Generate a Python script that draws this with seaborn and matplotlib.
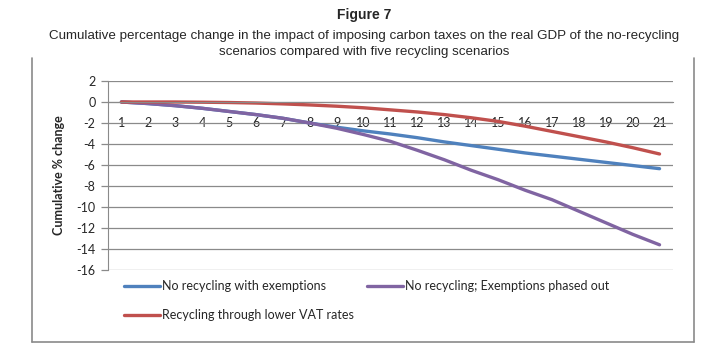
import matplotlib
matplotlib.use("Agg")
import matplotlib.pyplot as plt
from matplotlib.lines import Line2D
import seaborn as sns
import pandas as pd

# data
periods = list(range(1, 22))
no_recycling_exempt = [0, -0.15, -0.35, -0.6, -0.9, -1.2, -1.55, -2.0, -2.4, -2.75,
                       -3.05, -3.4, -3.8, -4.15, -4.5, -4.85, -5.15, -5.45, -5.75, -6.05, -6.35]
no_recycling_phased = [0, -0.15, -0.35, -0.6, -0.9, -1.2, -1.55, -2.0, -2.5, -3.1,
                       -3.75, -4.6, -5.5, -6.5, -7.4, -8.4, -9.3, -10.4, -11.5, -12.6, -13.6]
recycling_vat = [0, 0, 0, -0.02, -0.05, -0.1, -0.18, -0.28, -0.4, -0.55,
                 -0.75, -0.95, -1.2, -1.5, -1.85, -2.3, -2.8, -3.3, -3.8, -4.35, -4.95]

series_names = ["No recycling with exemptions",
                "No recycling; Exemptions phased out",
                "Recycling through lower VAT rates"]
colors = ["#4F81BD", "#8064A2", "#C0504D"]

df = pd.concat([
    pd.DataFrame({"period": periods, "value": vals, "series": name})
    for name, vals in zip(series_names, [no_recycling_exempt, no_recycling_phased, recycling_vat])
])

sns.set_style("white")
plt.rcParams["font.family"] = ["Liberation Sans", "DejaVu Sans"]
small_font = ["Lato", "DejaVu Sans"]

fig = plt.figure(figsize=(7.28, 3.54), dpi=100)
W, H = 728, 354
ax = fig.add_axes([108 / W, 1 - 270 / H, 565 / W, 189 / H])

sns.lineplot(data=df, x="period", y="value", hue="series", hue_order=series_names,
             palette=colors, linewidth=2.4, ax=ax, legend=False,
             solid_capstyle="round")

ax.set_xlim(0.5, 21.5)
ax.set_ylim(-16, 2)
ax.set_yticks(range(-16, 3, 2))
ax.set_yticklabels([str(v) for v in range(-16, 3, 2)], fontfamily=small_font, fontsize=9)
ax.yaxis.grid(True, color="#8a8a8a", linewidth=0.9)
ax.set_axisbelow(True)

# category axis crossing at zero, tick marks between categories
ax.spines["bottom"].set_position(("data", 0))
ax.spines["bottom"].set_color("#8a8a8a")
ax.spines["left"].set_color("#8a8a8a")
ax.spines["top"].set_visible(False)
ax.spines["right"].set_visible(False)
ax.set_xticks(periods)
ax.set_xticklabels([str(p) for p in periods], fontfamily=small_font, fontsize=9)
ax.set_xticks([p + 0.5 for p in [0] + periods], minor=True)
ax.tick_params(axis="x", which="major", length=0, pad=11)
ax.tick_params(axis="x", which="minor", length=5, color="#8a8a8a", direction="out", width=0.9)
ax.tick_params(axis="y", length=5, color="#8a8a8a", width=0.9, pad=4, left=True)
ax.set_xlabel("")
ax.set_ylabel("Cumulative % change", fontfamily=small_font, fontsize=9,
              fontweight="bold", labelpad=8)

# legend
handles = [Line2D([], [], color=colors[0], linewidth=2.4),
           Line2D([], [], color=colors[2], linewidth=2.4),
           Line2D([], [], color=colors[1], linewidth=2.4)]
labels = [series_names[0], series_names[2], series_names[1]]
fig.legend(handles, labels, loc="upper left", bbox_to_anchor=(124 / W, 1 - 280 / H),
           ncol=2, frameon=False, prop={"family": small_font, "size": 9},
           handlelength=2.9, handletextpad=0.15, columnspacing=1.0,
           labelspacing=1.35, borderpad=0, borderaxespad=0)

# titles
fig.text(0.5, 1 - 15 / H, "Figure 7", ha="center", va="center",
         fontsize=10, fontweight="bold")
fig.text(0.5, 1 - 44 / H,
         "Cumulative percentage change in the impact of imposing carbon taxes on the real GDP of the no-recycling\n"
         "scenarios compared with five recycling scenarios",
         ha="center", va="center", fontsize=9.6, linespacing=1.45)

# chart frame
frame_kw = dict(color="#8a8a8a", linewidth=1.2, transform=fig.transFigure)
fig.add_artist(Line2D([32 / W, 32 / W], [1 - 58 / H, 1 - 342 / H], **frame_kw))
fig.add_artist(Line2D([694 / W, 694 / W], [1 - 58 / H, 1 - 342 / H], **frame_kw))
fig.add_artist(Line2D([32 / W, 694 / W], [1 - 342 / H, 1 - 342 / H], **frame_kw))

fig.savefig("out.png", dpi=100)
